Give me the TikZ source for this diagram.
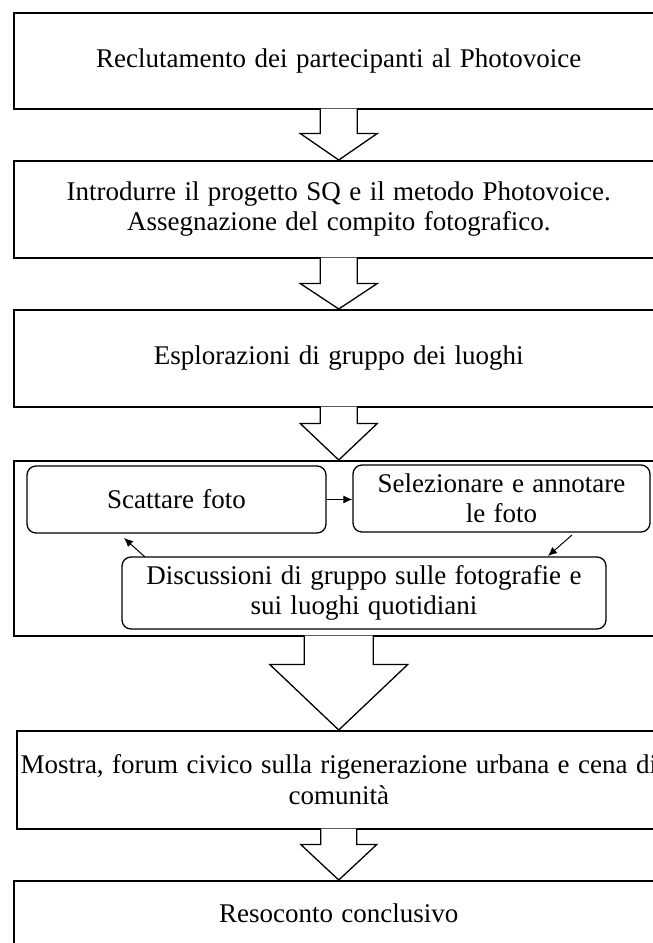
\documentclass[tikz,border=0pt]{standalone}
\usepackage{fontspec}
\setmainfont[WordSpace=1.25]{Liberation Serif}
\usetikzlibrary{arrows.meta,calc}
\newcommand\blockarr[5]{%
  \filldraw[blockarrow] ($(#1.south)+(-#3,-0.8)$) -- ($(#1.south)+(-#3,#5)$) -- ($(#1.south)+(-#4,#5)$) -- (#2.north) -- ($(#1.south)+(#4,#5)$) -- ($(#1.south)+(#3,#5)$) -- ($(#1.south)+(#3,-0.8)$);}
\begin{document}
\begin{tikzpicture}[x=1pt,y=-1pt,
  box/.style={draw=black,line width=1.5pt,rectangle,inner sep=0pt,align=center,font=\fontsize{27}{30.5}\selectfont},
  sub/.style={box,rounded corners=9pt,line width=1.3pt},
  blockarrow/.style={draw=black,line width=1.3pt,fill=white,line join=miter},
  flow/.style={draw=black,line width=1pt,-{Latex[length=9pt,width=8pt]}}]
\useasboundingbox (0,0) rectangle (653,943);
\clip (0,0) rectangle (653,943);
\fill[white] (0,0) rectangle (653,943);
\node[box,minimum width=650pt,minimum height=96pt,anchor=north west] (b1) at (13,12) {Reclutamento dei partecipanti al Photovoice};
\node[box,minimum width=650pt,minimum height=97pt,anchor=north west] (b2) at (13,160) {Introdurre il progetto SQ e il metodo Photovoice.\\Assegnazione del compito fotografico.};
\node[box,minimum width=650pt,minimum height=97pt,anchor=north west] (b3) at (13,309) {Esplorazioni di gruppo dei luoghi};
\node[box,minimum width=650pt,minimum height=175pt,anchor=north west] (b4) at (13,460) {};
\node[box,minimum width=644pt,minimum height=98pt,anchor=north west] (b5) at (16,730) {Mostra, forum civico sulla rigenerazione urbana e cena di\\comunità};
\node[box,minimum width=650pt,minimum height=66pt,anchor=north west] (b6) at (13,880) {Resoconto conclusivo};
\node[sub,minimum width=299pt,minimum height=67pt] (s1) at (176.5,499.5) {Scattare foto};
\node[sub,minimum width=297pt,minimum height=67pt] (s2) at (501.5,498.5) {Selezionare e annotare\\le foto};
\node[sub,minimum width=484pt,minimum height=72pt] (s3) at (364,593) {Discussioni di gruppo sulle fotografie e\\sui luoghi quotidiani};
\coordinate (p1) at (572,535);
\coordinate (p2) at (548,556);
\coordinate (q1) at (145,557);
\coordinate (q2) at (124,538);
\draw[flow] (s1.east) -- (s1.east -| s2.west);
\draw[flow] (p1) -- (p2);
\draw[flow] (q1) -- (q2);
\blockarr{b1}{b2}{18.5}{38.5}{24}
\blockarr{b2}{b3}{18.5}{38.5}{25}
\blockarr{b3}{b4}{18.5}{38.5}{16}
\blockarr{b4}{b5}{34.5}{69}{28}
\blockarr{b5}{b6}{18}{38}{15}
\end{tikzpicture}
\end{document}
